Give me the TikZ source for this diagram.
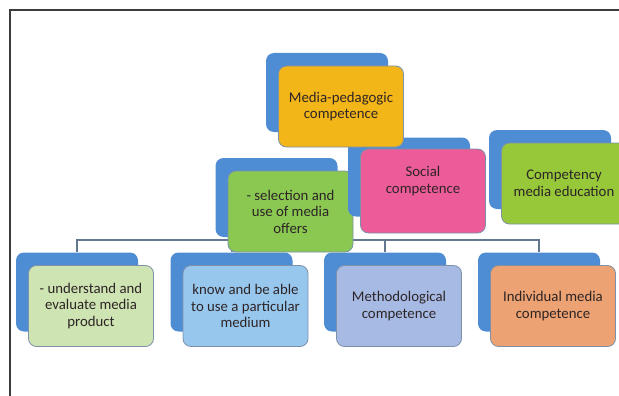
\documentclass[tikz,border=0pt]{standalone}
\usepackage{fontspec}
\setmainfont{Carlito}
\usepackage{tikz}
\usepackage{xcolor}

\definecolor{backblue}{RGB}{78,141,211}
\definecolor{edgegrey}{RGB}{125,145,170}
\definecolor{linkgrey}{RGB}{100,120,145}
\definecolor{framegrey}{RGB}{60,60,60}
\definecolor{textdark}{RGB}{45,36,38}
\definecolor{medpedgold}{RGB}{243,182,24}
\definecolor{socialpink}{RGB}{236,92,152}
\definecolor{competgreen}{RGB}{150,200,58}
\definecolor{selectgreen}{RGB}{138,200,82}
\definecolor{understandgreen}{RGB}{206,228,178}
\definecolor{knowblue}{RGB}{152,199,238}
\definecolor{methodblue}{RGB}{166,186,228}
\definecolor{individualorange}{RGB}{236,162,114}

\newcommand{\boxfont}{\fontsize{14.8}{16.5}\selectfont}

\begin{document}
\begin{tikzpicture}[x=1pt, y=-1pt]

        % Page area, the picture is cut at its right and bottom edge
        \clip (0,0) rectangle (619,396);

        % Frame line on the left and on top
        \coordinate (frameBL) at (10,396);
        \coordinate (frameTR) at (619,10);
        \draw[framegrey, line width=1.5pt] (frameBL) |- (frameTR);

        \tikzset{
          backbox/.style={fill=backblue, rounded corners=8pt, minimum width=122pt, minimum height=79pt, inner sep=0pt},
          boxtext/.style={font=\boxfont, text=textdark, align=center, inner sep=0pt},
          frontbox/.style={boxtext, draw=edgegrey, line width=0.8pt, rounded corners=8pt, minimum width=125pt, minimum height=81pt},
          link/.style={linkgrey, line width=2pt}
        }

        % front box sits down and right of its blue back box
        \def\boxshift{(14,14)}

        % 1. Bottom row (back boxes, then front boxes)
        \node[backbox] (understandBack) at (77,292) {};
        \node[frontbox, fill=understandgreen] (understand) at ([shift={\boxshift}]understandBack.center) {- understand and\\evaluate media\\product};

        \node[backbox] (knowBack) at (231.5,292) {};
        \node[frontbox, fill=knowblue] (know) at ([shift={\boxshift}]knowBack.center) {know and be able\\to use a particular\\medium};

        \node[backbox] (methodBack) at (385,292) {};
        \node[frontbox, fill=methodblue] (method) at ([shift={\boxshift}]methodBack.center) {Methodological\\competence};

        \node[backbox] (individualBack) at (539,292) {};
        \node[frontbox, fill=individualorange] (individual) at ([shift={\boxshift}]individualBack.center) {Individual media\\competence};

        % 2. Connectors from the bus line down to the bottom row
        \coordinate (bus) at (300,239.5);
        \draw[link] (bus) -| (understandBack.north);
        \draw[link] (bus) -| (knowBack.north);
        \draw[link] (bus) -| (methodBack.north);
        \draw[link] (bus) -| (individualBack.north);

        % 3. Selection box (covers the bus line)
        \node[backbox] (selectBack) at (276.5,197.5) {};
        \node[frontbox, fill=selectgreen] (select) at ([shift={\boxshift}]selectBack.center) {- selection and\\use of media\\offers};

        % 4. Social competence, text sits a bit high in the box
        \node[backbox] (socialBack) at (409,177) {};
        \node[frontbox, fill=socialpink, minimum height=84pt] (social) at ([shift={\boxshift}]socialBack.center) {};
        \node[boxtext] (socialText) at ([yshift=10pt]social.center) {Social\\competence};

        % 5. Competency media education (cut by the right edge)
        \node[backbox] (competBack) at (550,169.5) {};
        \node[frontbox, fill=competgreen] (compet) at ([shift={\boxshift}]competBack.center) {Competency\\media education};

        % 6. Top box, drawn last so it lies over the social back box
        \node[backbox] (medPedBack) at (327,92.5) {};
        \node[frontbox, fill=medpedgold] (medPed) at ([shift={\boxshift}]medPedBack.center) {Media-pedagogic\\competence};

\end{tikzpicture}
\end{document}
